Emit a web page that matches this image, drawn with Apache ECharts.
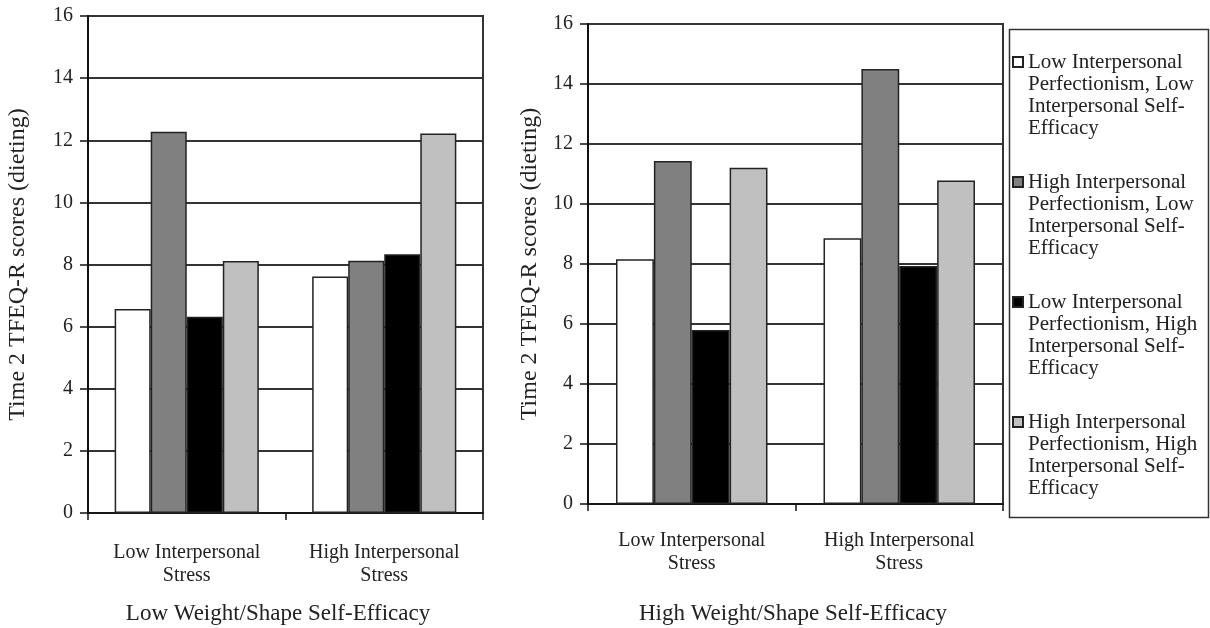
<!DOCTYPE html>
<html>
<head>
<meta charset="utf-8">
<script src="https://cdn.jsdelivr.net/npm/echarts@6/dist/echarts.min.js"></script>
<style>
html,body{margin:0;padding:0;background:#fff;}
#chart{width:1210px;height:628px;}
</style>
</head>
<body>
<div id="chart"></div>
<script>
// ---- data ----
const categories = ['Low Interpersonal\nStress', 'High Interpersonal\nStress'];
const seriesNames = [
  'Low Interpersonal\nPerfectionism, Low\nInterpersonal Self-\nEfficacy',
  'High Interpersonal\nPerfectionism, Low\nInterpersonal Self-\nEfficacy',
  'Low Interpersonal\nPerfectionism, High\nInterpersonal Self-\nEfficacy',
  'High Interpersonal\nPerfectionism, High\nInterpersonal Self-\nEfficacy'
];
// Left panel: Low Weight/Shape Self-Efficacy
const lowWSE_lowPerfLowSE   = [6.57, 7.61];
const lowWSE_highPerfLowSE  = [12.27, 8.12];
const lowWSE_lowPerfHighSE  = [6.32, 8.33];
const lowWSE_highPerfHighSE = [8.11, 12.22];
// Right panel: High Weight/Shape Self-Efficacy
const highWSE_lowPerfLowSE   = [8.16, 8.86];
const highWSE_highPerfLowSE  = [11.43, 14.5];
const highWSE_lowPerfHighSE  = [5.8, 7.93];
const highWSE_highPerfHighSE = [11.21, 10.78];
const yTicks = [0, 2, 4, 6, 8, 10, 12, 14, 16];
const yAxisTitle = 'Time 2 TFEQ-R scores (dieting)';
const panelTitles = ['Low Weight/Shape Self-Efficacy', 'High Weight/Shape Self-Efficacy'];

const barColors = ['#ffffff', '#808080', '#000000', '#c0c0c0'];
const FONT = '"Liberation Serif", "DejaVu Serif", serif';
const TXT = '#222';

const leftData = [lowWSE_lowPerfLowSE, lowWSE_highPerfLowSE, lowWSE_lowPerfHighSE, lowWSE_highPerfHighSE];
const rightData = [highWSE_lowPerfLowSE, highWSE_highPerfLowSE, highWSE_lowPerfHighSE, highWSE_highPerfHighSE];

function xAxisFor(gi, margin) {
  return {
    type: 'category', gridIndex: gi, data: categories,
    axisLine: {lineStyle: {color: '#111', width: 1.5}},
    axisTick: {show: true, length: 7, lineStyle: {color: '#111', width: 1.5}},
    axisLabel: {fontFamily: FONT, fontSize: 20, color: TXT, lineHeight: 23, margin: margin}
  };
}
function yAxisFor(gi, nameGap) {
  return {
    type: 'value', gridIndex: gi, min: yTicks[0], max: yTicks[yTicks.length - 1], interval: yTicks[1] - yTicks[0],
    name: yAxisTitle, nameLocation: 'middle', nameGap: nameGap, nameRotate: 90,
    nameTextStyle: {fontFamily: FONT, fontSize: 24, color: TXT},
    axisLine: {show: true, lineStyle: {color: '#111', width: 2}},
    axisTick: {show: true, length: 8, lineStyle: {color: '#111', width: 1.5}},
    axisLabel: {fontFamily: FONT, fontSize: 20, color: TXT, margin: 15},
    splitLine: {show: true, lineStyle: {color: '#333', width: 2}}
  };
}

const series = [];
[leftData, rightData].forEach((panel, gi) => {
  panel.forEach((vals, i) => {
    series.push({
      type: 'bar', name: seriesNames[i], xAxisIndex: gi, yAxisIndex: gi,
      data: vals, barGap: '0%', barCategoryGap: '27%',
      itemStyle: {color: barColors[i], borderColor: '#222', borderWidth: 1.5},
      emphasis: {disabled: true}
    });
  });
});

const chart = echarts.init(document.getElementById('chart'), null, {renderer: 'canvas'});
chart.setOption({
  backgroundColor: '#ffffff',
  animation: false,
  grid: [
    {left: 88, top: 16, width: 395, height: 497, show: true, borderColor: '#333', borderWidth: 2, containLabel: false},
    {left: 588, top: 24, width: 415, height: 480, show: true, borderColor: '#333', borderWidth: 2, containLabel: false}
  ],
  xAxis: [xAxisFor(0, 28), xAxisFor(1, 25)],
  yAxis: [yAxisFor(0, 58), yAxisFor(1, 46)],
  legend: {
    orient: 'vertical', left: 1012, top: -15, padding: 0,
    data: seriesNames, itemWidth: 10, itemHeight: 10, itemGap: -34,
    icon: 'rect', selectedMode: false,
    formatter: n => '\n\n\n' + n,
    textStyle: {fontFamily: FONT, fontSize: 21, color: TXT, lineHeight: 22}
  },
  graphic: [
    {type: 'rect', left: 1007, top: 27, shape: {width: 199, height: 488}, style: {fill: 'none', stroke: '#333', lineWidth: 1.5}, z: 0},
    {type: 'text', x: 278, y: 614, style: {text: panelTitles[0], font: '23px ' + FONT, fill: TXT, textAlign: 'center', textVerticalAlign: 'middle'}},
    {type: 'text', x: 793, y: 614, style: {text: panelTitles[1], font: '23px ' + FONT, fill: TXT, textAlign: 'center', textVerticalAlign: 'middle'}}
  ],
  series: series
});
</script>
</body>
</html>
